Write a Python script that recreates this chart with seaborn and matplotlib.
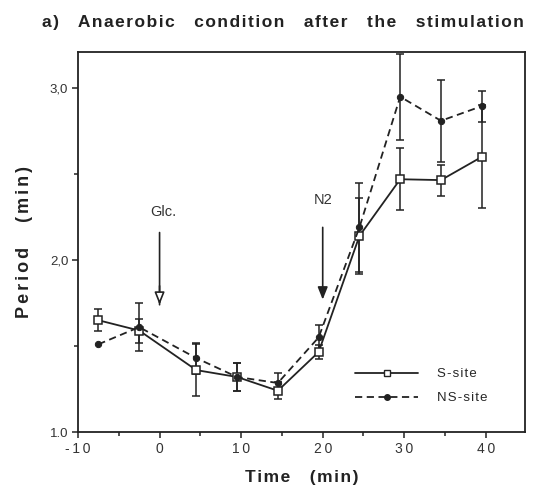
import numpy as np
import pandas as pd
import matplotlib
matplotlib.use("Agg")
import matplotlib.pyplot as plt
import seaborn as sns
from matplotlib.lines import Line2D

# ---- data ----
time = [-7.5, -2.5, 4.5, 9.5, 14.5, 19.5, 24.5, 29.5, 34.5, 39.5]
s_site = [1.65, 1.59, 1.36, 1.32, 1.24, 1.465, 2.14, 2.47, 2.465, 2.60]
s_err = [0.065, 0.07, 0.15, 0.08, 0.05, 0.04, 0.22, 0.18, 0.09, 0.30]
ns_site = [1.51, 1.61, 1.43, 1.32, 1.285, 1.55, 2.19, 2.95, 2.81, 2.895]
ns_err = [0.0, 0.14, 0.09, 0.08, 0.06, 0.07, 0.26, 0.25, 0.24, 0.09]
series_names = ["S-site", "NS-site"]
x_ticks = [-10, 0, 10, 20, 30, 40]
y_ticks = [1.0, 2.0, 3.0]
y_tick_labels = ["1.0", "2,0", "3,0"]

HS = "\u200a"  # hair space for letter spacing


def spaced(s, sep=HS):
    return sep.join(list(s))


df = pd.DataFrame({
    "Time": time * 2,
    "Period": s_site + ns_site,
    "Site": [series_names[0]] * len(time) + [series_names[1]] * len(time),
})

sns.set_style("white")
plt.rcParams["font.family"] = ["Liberation Sans", "DejaVu Sans"]

fig = plt.figure(figsize=(5.59, 4.90), dpi=100)
ax = fig.add_axes([78 / 559, 1 - 432 / 490, (525 - 78) / 559, (432 - 52) / 490])

INK = "#222222"

# error bars
ax.errorbar(time, s_site, yerr=s_err, fmt="none", ecolor=INK,
            elinewidth=1.1, capsize=3, capthick=1.1, zorder=1)
ns_t = [t for t, e in zip(time, ns_err) if e > 0]
ns_v = [v for v, e in zip(ns_site, ns_err) if e > 0]
ns_e = [e for e in ns_err if e > 0]
ax.errorbar(ns_t, ns_v, yerr=ns_e, fmt="none", ecolor=INK,
            elinewidth=1.1, capsize=3, capthick=1.1, zorder=1)

sns.lineplot(data=df, x="Time", y="Period", hue="Site", style="Site",
             palette=[INK, INK],
             dashes={"S-site": "", "NS-site": (4, 2.5)},
             markers={"S-site": "s", "NS-site": "o"},
             markersize=5.5, linewidth=1.3, ax=ax, legend=False, zorder=3)

for ln in ax.get_lines():
    if ln.get_marker() == "s":
        ln.set_markerfacecolor("white")
        ln.set_markeredgecolor(INK)
        ln.set_markeredgewidth(1.1)
    elif ln.get_marker() == "o":
        ln.set_markerfacecolor(INK)
        ln.set_markeredgecolor(INK)
        ln.set_markersize(4.5)

ax.set_xlim(-10, 44.8)
ax.set_ylim(1.0, 3.21)
ax.set_xticks(x_ticks)
ax.set_xticklabels([spaced(str(t), "\u2009") for t in x_ticks], fontsize=10)
ax.set_xticks([-5, 5, 15, 25, 35], minor=True)
ax.set_yticks(y_ticks)
ax.set_yticklabels(y_tick_labels, fontsize=9.5)
ax.set_yticks([1.5, 2.5], minor=True)
ax.tick_params(axis="both", which="both", direction="out", length=4,
               width=1.1, color=INK, labelcolor="#333333", pad=3,
               bottom=True, left=True)
ax.tick_params(axis="both", which="minor", length=3)
for sp in ax.spines.values():
    sp.set_color(INK)
    sp.set_linewidth(1.3)
    sp.set_visible(True)

ax.set_xlabel(spaced("Time") + "    " + spaced("(min)"), fontsize=12.5,
              fontweight="bold", color=INK, labelpad=10)
ax.set_ylabel(spaced("Period", HS * 2) + "     " + spaced("(min)", HS * 2),
              fontsize=13, fontweight="bold", color=INK, labelpad=12)

title_words = ["a)", "Anaerobic", "condition", "after", "the", "stimulation"]
fig.text(0.506, 0.955, "    ".join(spaced(w, HS) for w in title_words),
         ha="center", va="center", fontsize=12.5, fontweight="bold",
         color=INK)

# arrows
ax.annotate("", xy=(0, 1.74), xytext=(0, 2.16),
            arrowprops=dict(arrowstyle="-", color=INK, lw=1.2,
                            shrinkA=0, shrinkB=0))
ax.annotate("", xy=(0, 1.74), xytext=(0, 1.85),
            arrowprops=dict(arrowstyle="-|>,head_width=0.3,head_length=0.75",
                            fc="white", ec=INK, lw=1.2, shrinkA=0, shrinkB=0))
ax.text(0.5, 2.28, "Glc.", ha="center", va="center", fontsize=10.5, color="#333333")
ax.annotate("", xy=(20, 1.77), xytext=(20, 2.19),
            arrowprops=dict(arrowstyle="-|>,head_width=0.3,head_length=0.75",
                            fc=INK, ec=INK, lw=1.2, shrinkA=0, shrinkB=0))
ax.text(20, 2.35, "N2", ha="center", va="center", fontsize=10.5, color="#333333")

# legend
handles = [
    Line2D([], [], color=INK, lw=1.3, marker="s", markersize=4.5,
           markerfacecolor="white", markeredgecolor=INK),
    Line2D([], [], color=INK, lw=1.3, ls=(0, (4, 2.5)), marker="o",
           markersize=4, markerfacecolor=INK),
]
ax.legend(handles, [spaced(n) for n in series_names], loc="upper left",
          bbox_to_anchor=((355 - 78) / 447, (432 - 368) / 380),
          frameon=False, fontsize=9.5, handlelength=4.8, handletextpad=1.4,
          labelspacing=0.9, borderpad=0, borderaxespad=0)

fig.savefig("out.png", dpi=100)
